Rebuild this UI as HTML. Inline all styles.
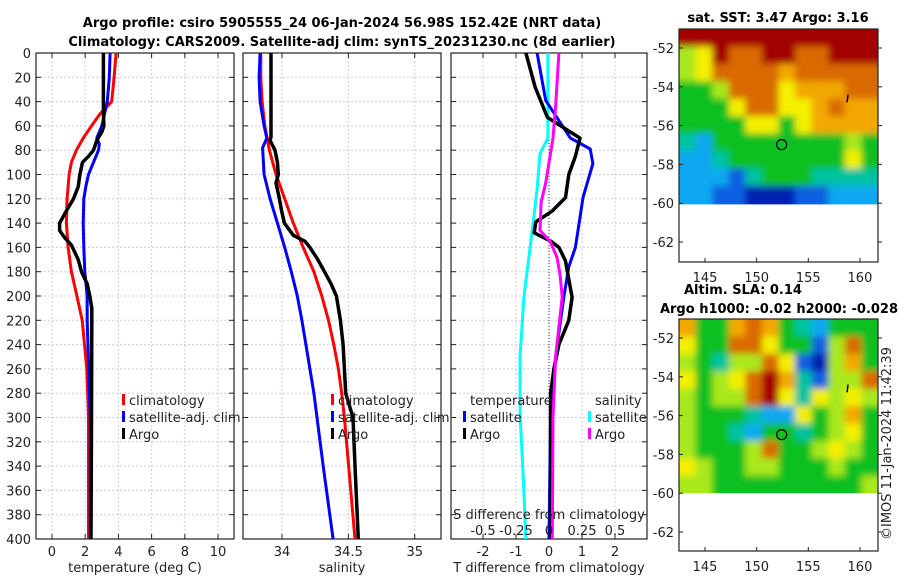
<!DOCTYPE html>
<html><head><meta charset="utf-8">
<style>
html,body{margin:0;padding:0;background:#fff;}
svg{display:block;font-family:"DejaVu Sans","Liberation Sans",sans-serif;}
</style></head>
<body>
<svg id="fig" width="900" height="580" viewBox="0 0 900 580" xmlns="http://www.w3.org/2000/svg">
<defs>
<filter id="soft" x="-10%" y="-10%" width="120%" height="120%"><feGaussianBlur stdDeviation="3.5"/></filter>
<clipPath id="clip1"><rect x="679" y="29" width="199" height="175.4"/></clipPath>
<clipPath id="clip2"><rect x="679" y="319" width="199" height="174.2"/></clipPath>
</defs>
<rect width="900" height="580" fill="#fff"/>
<text x="342" y="27" font-size="13" font-weight="bold" text-anchor="middle">Argo profile: csiro 5905555_24 06-Jan-2024 56.98S 152.42E (NRT data)</text>
<text x="342" y="46" font-size="13" font-weight="bold" text-anchor="middle">Climatology: CARS2009. Satellite-adj clim: synTS_20231230.nc (8d earlier)</text>
<g id="p1"></g>
<g id="p2"></g>
<g id="p3"></g>
<g id="m1"></g>
<g id="m2"></g>
<text x="778" y="22" font-size="13" font-weight="bold" text-anchor="middle">sat. SST: 3.47 Argo: 3.16</text>
<text x="684" y="294" font-size="13" font-weight="bold">Altim. SLA: 0.14</text>
<text x="779" y="313" font-size="13" font-weight="bold" text-anchor="middle">Argo h1000: -0.02 h2000: -0.028</text>
<text transform="translate(891,540) rotate(-90)" font-size="13" fill="#222">©IMOS 11-Jan-2024 11:42:39</text>
</svg>
<script>
// ---- profile data (depth in m) ----
const tDepth   = [0,20,40,50,60,65,72,80,85,90,100,110,120,130,140,146,152,158,170,180,190,200,210,220,300,400];
const tArgo    = [3.1,3.1,3.1,3.1,3.13,3.0,2.7,2.5,2.2,1.84,1.68,1.58,1.3,0.87,0.46,0.46,0.77,1.17,1.58,1.78,2.12,2.28,2.4,2.4,2.38,2.35];
const tClimDepth = [0,20,40,50,60,70,80,90,100,120,140,160,180,200,220,260,300,400];
const tClim    = [3.86,3.74,3.6,2.9,2.38,1.88,1.47,1.17,1.03,0.91,0.87,0.97,1.17,1.5,1.82,2.1,2.2,2.2];
const tSatDepth = [0,20,40,60,70,75,80,90,100,110,120,140,160,180,200,220,300,400];
const tSat     = [3.5,3.45,3.33,3.0,2.7,2.85,2.8,2.5,2.2,2.04,1.92,1.88,1.92,1.98,2.12,2.12,2.3,2.3];

const sArgoDepth = [0,69,72,80,90,100,107,120,130,140,150,155,160,170,180,190,200,220,240,280,300,340,400];
const sArgo    = [33.917,33.917,33.91,33.947,33.965,33.972,33.955,33.98,33.997,34.018,34.085,34.173,34.21,34.27,34.32,34.37,34.41,34.44,34.46,34.48,34.535,34.55,34.575];
const sClimDepth = [0,20,40,60,80,100,120,140,160,180,200,220,240,260,280,300,400];
const sClim    = [33.84,33.84,33.85,33.87,33.905,33.955,34.02,34.085,34.16,34.24,34.3,34.35,34.39,34.425,34.45,34.47,34.55];
const sSatDepth = [0,20,40,60,70,78,100,120,140,160,180,200,220,240,260,280,340,400];
const sSat     = [33.835,33.827,33.835,33.865,33.885,33.854,33.865,33.91,33.965,34.02,34.07,34.115,34.15,34.18,34.21,34.24,34.31,34.385];

// differences (T in deg C; S drawn on scaled axis, 0.25 psu per 1 deg)
const dTArgoDepth = [0,28,53,70,85,100,119,130,139,148,155,160,171,182,201,220,240,260,280,400];
const dTArgo   = [-0.7,-0.42,-0.05,0.94,0.8,0.6,0.5,0.1,-0.4,-0.45,0.06,0.3,0.5,0.57,0.7,0.6,0.3,0.15,0.05,0.05];
const dTSatDepth = [0,39,70,79,91,119,160,176,201,250,300,400];
const dTSat    = [-0.36,-0.1,0.65,1.25,1.33,1.03,0.8,0.6,0.45,0.2,0.05,0.0];
const dSSatDepth = [0,70,83,112,140,201,250,300,350,400];
const dSSat    = [-0.008,-0.008,-0.068,-0.09,-0.12,-0.19,-0.22,-0.218,-0.195,-0.175];
const dSArgoDepth = [0,44,70,107,123,146,155,168,182,201,250,300,400];
const dSArgo   = [0.075,0.05,0.03,-0.025,-0.06,-0.068,0.008,0.06,0.083,0.1,0.05,0.03,0.025];

const tTicks = [0,2,4,6,8,10];
const sTicks = [34,34.5,35];
const dTicks = [-2,-1,0,1,2];
const dSTickLabels = ["-0.5","-0.25","0","0.25","0.5"];
const depthTicks = [0,20,40,60,80,100,120,140,160,180,200,220,240,260,280,300,320,340,360,380,400];

const NS="http://www.w3.org/2000/svg";
function mk(parent,tag,attrs,txt){const e=document.createElementNS(NS,tag);for(const k in attrs)e.setAttribute(k,attrs[k]);if(txt!==undefined)e.textContent=txt;parent.appendChild(e);return e;}
const TOP=53, BOT=539;
const yD = d => TOP + d*(BOT-TOP)/400;

function panel(g, x0, x1, xmin, xmax, ticks, labels, xlabel, showY){
  const xs = v => x0 + (v-xmin)/(xmax-xmin)*(x1-x0);
  ticks.forEach(v=>{const l=mk(g,'line',{x1:xs(v),x2:xs(v),y1:TOP,y2:BOT,stroke:'#c8cce8','stroke-width':1,'stroke-dasharray':'2,2'});
    
    });
  depthTicks.forEach(d=>{const l=mk(g,'line',{x1:x0,x2:x1,y1:yD(d),y2:yD(d),stroke:'#c8cce8','stroke-width':1,'stroke-dasharray':'2,2'});
    
    });
  const r=mk(g,'rect',{x:x0,y:TOP,width:x1-x0,height:BOT-TOP,fill:'none',stroke:'#222','stroke-width':1.2});
  
  
  ticks.forEach((v,i)=>{
    mk(g,'line',{x1:xs(v),x2:xs(v),y1:BOT,y2:BOT-5,stroke:'#222'});
    mk(g,'line',{x1:xs(v),x2:xs(v),y1:TOP,y2:TOP+5,stroke:'#222'});
    const t=mk(g,'text',{x:xs(v),y:556,'font-size':13,'text-anchor':'middle',fill:'#222'},labels[i]);
    
    
  });
  depthTicks.forEach(d=>{
    mk(g,'line',{x1:x0,x2:x0+5,y1:yD(d),y2:yD(d),stroke:'#222'});
    mk(g,'line',{x1:x1,x2:x1-5,y1:yD(d),y2:yD(d),stroke:'#222'});
    if(showY){const t=mk(g,'text',{x:31,y:yD(d)+5,'font-size':13,'text-anchor':'end',fill:'#222'},String(d));
      
      }
  });
  const xt=mk(g,'text',{x:(x0+x1)/2,y:572,'font-size':13,'text-anchor':'middle',fill:'#222'},xlabel);
  
  
  return xs;
}
function line(g,xs,depths,vals,color,name,w){
  const pts=vals.map((v,i)=>xs(v).toFixed(1)+','+yD(depths[i]).toFixed(1)).join(' ');
  const p=mk(g,'polyline',{points:pts,fill:'none',stroke:color,'stroke-width':w||3,'stroke-linejoin':'round'});
  
  
}
function legend(g,x,y,color,label,name){
  mk(g,'rect',{x:x,y:y-11,width:3,height:11,fill:color});
  const t=mk(g,'text',{x:x+7,y:y,'font-size':13,fill:'#222'},label);
  
  
}
const p1=document.getElementById('p1'),p2=document.getElementById('p2'),p3=document.getElementById('p3');
const x1s=panel(p1,36,234,-0.96,10.96,tTicks,tTicks.map(String),'temperature (deg C)',true);
line(p1,x1s,tClimDepth,tClim,'#ff0000','temp-climatology-line');
line(p1,x1s,tSatDepth,tSat,'#0000ff','temp-satellite-line');
line(p1,x1s,tDepth,tArgo,'#000','temp-argo-line',3.5);
legend(p1,122,405,'#ff0000','climatology','legend-climatology');
legend(p1,122,422,'#0000ff','satellite-adj. clim','legend-satellite');
legend(p1,122,439,'#000','Argo','legend-argo');

const x2s=panel(p2,243,441,33.706,35.198,sTicks,['34','34.5','35'],'salinity',false);
line(p2,x2s,sClimDepth,sClim,'#ff0000','sal-climatology-line');
line(p2,x2s,sSatDepth,sSat,'#0000ff','sal-satellite-line');
line(p2,x2s,sArgoDepth,sArgo,'#000','sal-argo-line',3.5);
legend(p2,331,405,'#ff0000','climatology','legend-climatology');
legend(p2,331,422,'#0000ff','satellite-adj. clim','legend-satellite');
legend(p2,331,439,'#000','Argo','legend-argo');

const x3s=panel(p3,451,647,-2.97,2.97,dTicks,dTicks.map(String),'T difference from climatology',false);
const zl=mk(p3,'line',{x1:x3s(0),x2:x3s(0),y1:TOP,y2:BOT,stroke:'#335','stroke-width':1,'stroke-dasharray':'1,2'});


const sx = v => x3s(v*4);
line(p3,sx,dSSatDepth,dSSat,'#00ffff','sal-satellite-diff-line');
line(p3,x3s,dTSatDepth,dTSat,'#0000ff','temp-satellite-diff-line');
line(p3,x3s,dTArgoDepth,dTArgo,'#000','temp-argo-diff-line',3.5);
line(p3,sx,dSArgoDepth,dSArgo,'#ff00ff','sal-argo-diff-line');
[['temperature',470,405],['salinity',595,405]].forEach(a=>{const t=mk(p3,'text',{x:a[1],y:a[2],'font-size':13,fill:'#222'},a[0]);
  
  });
legend(p3,463,422,'#0000ff','satellite','legend-temp-satellite');
legend(p3,463,439,'#000','Argo','legend-temp-argo');
legend(p3,588,422,'#00ffff','satellite','legend-sal-satellite');
legend(p3,588,439,'#ff00ff','Argo','legend-sal-argo');
const st=mk(p3,'text',{x:x3s(0),y:519,'font-size':13,'text-anchor':'middle',fill:'#222'},'S difference from climatology');


dTicks.forEach((v,i)=>{const t=mk(p3,'text',{x:x3s(v),y:535,'font-size':13,'text-anchor':'middle',fill:'#222'},dSTickLabels[i]);
  
  });

// ---- maps ----
const lonTicks=[145,150,155,160];
const latTicks=[-52,-54,-56,-58,-60,-62];
const pal={R:'#a30000',O:'#d96a00',o:'#f2a800',Y:'#f4f000',y:'#a8e81a',G:'#10c020',g:'#00c2a0',C:'#10a8f0',B:'#1060e0',D:'#0020b0'};
const sstGrid=[
"RRRRRRRRRRRR",
"yYROORROORRR",
"yYOOOOoOOOOO",
"GGyOOOYoooOO",
"GGGYOOYYoOoo",
"GGGGYYGYoooo",
"gCGGGGGGGGyG",
"CCgGGGGGGGYG",
"CCCBgGGGgggg",
"CCBBDDDBBCCC"];
const slaGrid=[
"oGGoOoGgCGGG",
"YGGOOYGGByOG",
"yGgyyOYBDyoG",
"YGyYORogByyO",
"yGyyORYgYyYy",
"yGGGgCCYGyoG",
"yGGgCGGgGyYG",
"yGGGyOGGyYyG",
"YyGGyyGGGyGG",
"yyGGGGGGGGGy"];
function map(g,top,bot,lat52y,grid,fillCircle,clipId){
  const L=679,R=878,lonX=v=>705+(v-145)*10.33;
  const latY=v=>lat52y+(-52-v)*19.4;
  const y60=latY(-60);
  const rows=grid.length,cols=grid[0].length,cw=(R-L)/cols,ch=(y60-top)/rows;
  const cg=mk(g,'g',{'clip-path':'url(#'+clipId+')'});
  const bg=mk(cg,'g',{filter:'url(#soft)'});
  for(let r=0;r<rows;r++)for(let c=0;c<cols;c++){
    let x=L+c*cw,y=top+r*ch,w=cw+0.6,h=ch+0.6;
    if(c===0){x-=12;w+=12;} if(c===cols-1){w+=12;}
    if(r===0){y-=12;h+=12;} if(r===rows-1){h+=12;}
    mk(bg,'rect',{x:x.toFixed(1),y:y.toFixed(1),width:w.toFixed(1),height:h.toFixed(1),fill:pal[grid[r][c]]});
  }
  const b=mk(g,'rect',{x:L,y:top,width:R-L,height:bot-top,fill:'none',stroke:'#222','stroke-width':1.2});
  
  
  lonTicks.forEach(v=>{mk(g,'line',{x1:lonX(v),x2:lonX(v),y1:bot,y2:bot-4,stroke:'#222'});
    const t=mk(g,'text',{x:lonX(v),y:bot+20,'font-size':13,'text-anchor':'middle',fill:'#222'},String(v));
    
    });
  latTicks.forEach(v=>{mk(g,'line',{x1:R,x2:R+4,y1:latY(v),y2:latY(v),stroke:'#222'});
    mk(g,'line',{x1:L,x2:L+4,y1:latY(v),y2:latY(v),stroke:'#222'});
    const t=mk(g,'text',{x:674,y:latY(v)+5,'font-size':13,'text-anchor':'end',fill:'#222'},String(v));
    
    });
  const c=mk(g,'circle',{cx:lonX(152.42),cy:latY(-56.98),r:5,fill:fillCircle,stroke:'#000','stroke-width':1.2});
  
  
  mk(g,'line',{x1:lonX(158.85),x2:lonX(158.75),y1:latY(-54.4),y2:latY(-54.8),stroke:'#000','stroke-width':1.5});
}
map(document.getElementById('m1'),29,262,48,sstGrid,'none','clip1');
map(document.getElementById('m2'),319,551,338,slaGrid,'#10c020','clip2');
</script>
</body></html>
